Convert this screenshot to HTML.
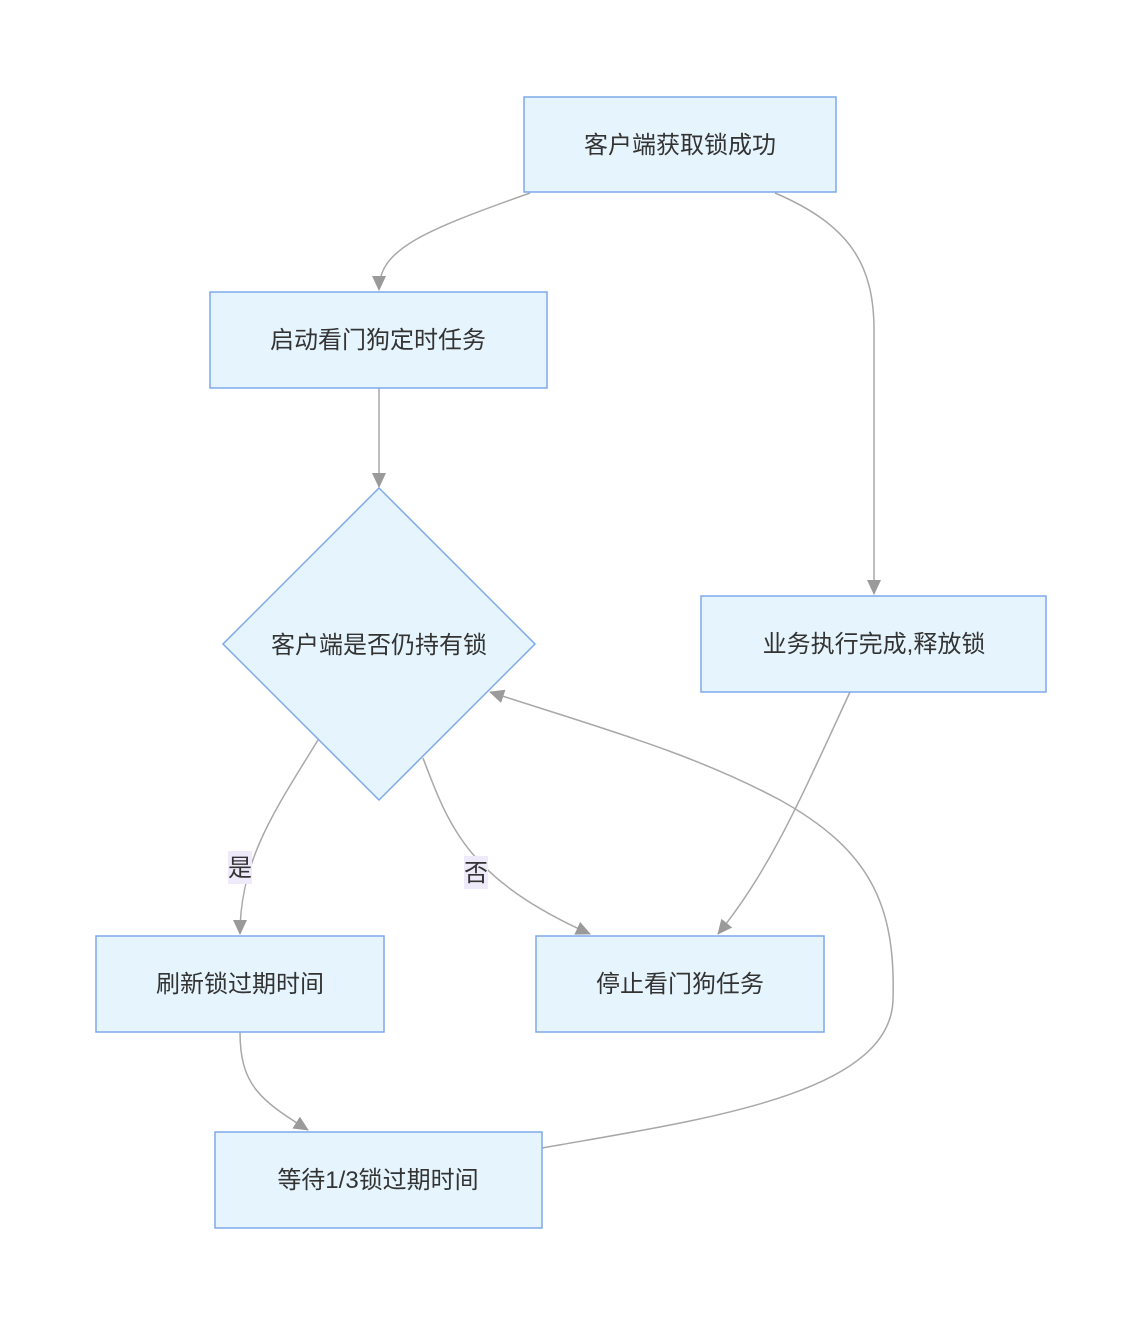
<!DOCTYPE html>
<html><head><meta charset="utf-8"><style>
html,body{margin:0;padding:0;background:#fff;}
svg{display:block;}
text{font-family:"Liberation Sans","Noto Sans CJK SC",sans-serif;font-size:24px;fill:#333;}
.n{fill:#e6f5fd;stroke:#7ea8ec;stroke-width:1.5;}
.e{fill:none;stroke:#a8a8a8;stroke-width:1.5;}
</style></head><body>
<svg width="1142" height="1324" viewBox="0 0 1142 1324" xmlns="http://www.w3.org/2000/svg">
<defs>
<marker id="m" viewBox="0 0 16 16" refX="14" refY="8" markerWidth="16" markerHeight="16" orient="auto" markerUnits="userSpaceOnUse"><path d="M0,1 L15,8 L0,15 z" fill="#9a9a9a"/></marker></defs>
<path class="e" d="M530,193 C420,232 379,250 379,290" marker-end="url(#m)"/>
<path class="e" d="M775,193 C850,225 874,265 874,330 L874,594" marker-end="url(#m)"/>
<path class="e" d="M379,388 L379,487" marker-end="url(#m)"/>
<path class="e" d="M318,740 C275,810 240,860 240,934" marker-end="url(#m)"/>
<path class="e" d="M423,758 C450,830 470,880 590,934" marker-end="url(#m)"/>
<path class="e" d="M850,692 C800,800 770,870 718,934" marker-end="url(#m)"/>
<path class="e" d="M240,1032 C240,1085 260,1100 308,1130" marker-end="url(#m)"/>
<path class="e" d="M542,1148 C700,1120 890,1095 893,1000 C896,905 870,850 780,800 C690,752 600,728 490,692" marker-end="url(#m)"/>
<rect class="n" x="524" y="97" width="312" height="95"/>
<text x="680" y="153" text-anchor="middle">客户端获取锁成功</text>
<rect class="n" x="210" y="292" width="337" height="96"/>
<text x="378" y="348" text-anchor="middle">启动看门狗定时任务</text>
<polygon class="n" points="379,488 535,644 379,800 223,644"/>
<text x="379" y="653" text-anchor="middle">客户端是否仍持有锁</text>
<rect class="n" x="701" y="596" width="345" height="96"/>
<text x="874" y="652" text-anchor="middle">业务执行完成,释放锁</text>
<rect class="n" x="96" y="936" width="288" height="96"/>
<text x="240" y="992" text-anchor="middle">刷新锁过期时间</text>
<rect class="n" x="536" y="936" width="288" height="96"/>
<text x="680" y="992" text-anchor="middle">停止看门狗任务</text>
<rect class="n" x="215" y="1132" width="327" height="96"/>
<text x="378" y="1188" text-anchor="middle">等待1/3锁过期时间</text>
<rect x="228" y="851" width="24" height="33" fill="#eeeafa"/>
<text x="240" y="876" text-anchor="middle">是</text>
<rect x="464" y="856" width="24" height="33" fill="#eeeafa"/>
<text x="476" y="881" text-anchor="middle">否</text>
</svg>
</body></html>
